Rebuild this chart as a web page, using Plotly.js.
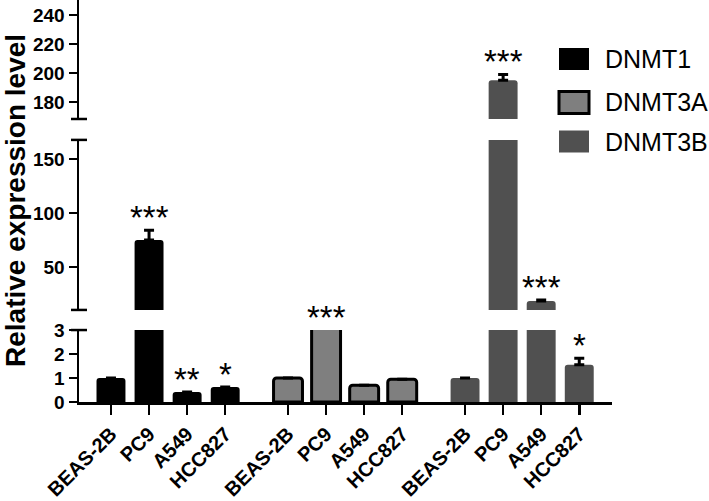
<!DOCTYPE html>
<html>
<head>
<meta charset="utf-8">
<script src="https://cdn.plot.ly/plotly-3.0.1.min.js"></script>
<style>
  html, body { margin: 0; padding: 0; background: #fff; }
  #chart { width: 709px; height: 501px; }
</style>
</head>
<body>
<div id="chart"></div>
<script>
var cells = ['BEAS-2B', 'PC9', 'A549', 'HCC827'];
var genes = ['DNMT1', 'DNMT3A', 'DNMT3B'];

var dnmt1 = [1, 75, 0.42, 0.63];
var dnmt1Err = [0, 9, 0, 0];
var dnmt1Stars = ['', '***', '**', '*'];

var dnmt3a = [1, 4, 0.7, 0.95];
var dnmt3aErr = [0, 0, 0, 0];
var dnmt3aStars = ['', '***', '', ''];

var dnmt3b = [1, 195, 18.5, 1.55];
var dnmt3bErr = [0, 4, 1, 0.27];
var dnmt3bStars = ['', '***', '***', '*'];

var values = [dnmt1, dnmt3a, dnmt3b];
var errors = [dnmt1Err, dnmt3aErr, dnmt3bErr];
var stars = [dnmt1Stars, dnmt3aStars, dnmt3bStars];

var fills = ['#000000', '#7f7f7f', '#505050'];
var outlines = [0, 3, 0];
var groupGap = 4.65;
var font = 'Liberation Sans, Arial, sans-serif';

// three stacked y segments for the broken axis
var segs = [
  {id: 'y', key: 'yaxis', domain: [0, 0.179], range: [0, 3], ticks: [0, 1, 2, 3]},
  {id: 'y2', key: 'yaxis2', domain: [0.229, 0.652], range: [10.2, 167.6], ticks: [50, 100, 150]},
  {id: 'y3', key: 'yaxis3', domain: [0.704, 1], range: [168.3, 250.3], ticks: [180, 200, 220, 240]}
];

var data = [];
var tickPos = [], tickText = [];
var annotations = [];

genes.forEach(function (g, gi) {
  var xs = cells.map(function (c, i) { return gi * groupGap + i; });
  xs.forEach(function (x, i) { tickPos.push(x); tickText.push(cells[i]); });
  segs.forEach(function (s) {
    data.push({
      type: 'bar',
      name: g,
      x: xs,
      y: values[gi],
      xaxis: 'x',
      yaxis: s.id,
      width: 0.76,
      showlegend: false,
      hoverinfo: 'skip',
      marker: {color: fills[gi], line: {color: '#000', width: outlines[gi]}, cornerradius: 3},
      error_y: {
        type: 'data', symmetric: false,
        array: errors[gi], arrayminus: errors[gi].map(function () { return 0; }),
        color: '#000', thickness: 3, width: 5
      }
    });
  });
  // significance stars
  stars[gi].forEach(function (st, i) {
    if (!st) return;
    var top = values[gi][i] + errors[gi][i];
    var ref = 'y', yy = Math.min(top, 3);
    if (top > 168.3) { ref = 'y3'; yy = top; }
    else if (top > 10.2) { ref = 'y2'; yy = top; }
    annotations.push({
      x: xs[i], y: yy, xref: 'x', yref: ref, text: st, showarrow: false,
      yanchor: 'bottom', yshift: -8,
      font: {family: font, size: 33, color: '#000'}
    });
  });
});

var layout = {
  width: 709, height: 501,
  margin: {l: 79, r: 97, t: 0, b: 99},
  paper_bgcolor: '#fff', plot_bgcolor: '#fff',
  barmode: 'overlay',
  showlegend: false,
  font: {family: font, color: '#000'},
  xaxis: {
    range: [-0.84, 13.16],
    tickvals: tickPos, ticktext: tickText, tickangle: -45,
    ticks: 'outside', ticklen: 10, tickwidth: 2.5, tickcolor: '#000',
    showline: true, linewidth: 2.5, linecolor: '#000',
    showgrid: false, zeroline: false, anchor: 'y',
    tickfont: {family: font, size: 20, color: '#000', weight: 'bold'}
  },
  annotations: annotations,
  shapes: []
};

segs.forEach(function (s) {
  layout[s.key] = {
    domain: s.domain, range: s.range, tickvals: s.ticks,
    ticks: 'outside', ticklen: 8, tickwidth: 2.5, tickcolor: '#000',
    showline: true, linewidth: 2.5, linecolor: '#000',
    showgrid: false, zeroline: false, anchor: 'x',
    tickfont: {family: font, size: 19, color: '#000', weight: 'bold'}
  };
});

// end caps on the axis breaks
[['y domain', 1], ['y2 domain', 0], ['y2 domain', 1], ['y3 domain', 0]].forEach(function (c) {
  layout.shapes.push({
    type: 'line', xref: 'paper', yref: c[0],
    x0: -8 / 533, x1: 8 / 533, y0: c[1], y1: c[1],
    line: {color: '#000', width: 2.5}
  });
});

// legend swatches drawn by hand to keep the large boxes
var legY = [59, 102.5, 141.5];
genes.forEach(function (g, gi) {
  var yc = 1 - legY[gi] / 402;
  var hh = 11 / 402;
  layout.shapes.push({
    type: 'rect', xref: 'paper', yref: 'paper',
    x0: (559 - 79) / 533, x1: (589 - 79) / 533, y0: yc - hh, y1: yc + hh,
    fillcolor: fills[gi],
    line: {color: '#000', width: outlines[gi] || 0}
  });
  annotations.push({
    xref: 'paper', yref: 'paper', x: (603 - 79) / 533, y: yc,
    xanchor: 'left', yanchor: 'middle', showarrow: false, text: g,
    font: {family: font, size: 25, color: '#000'}
  });
});

annotations.push({
  xref: 'paper', yref: 'paper', x: (15 - 79) / 533, y: 0.5,
  xanchor: 'center', yanchor: 'middle', showarrow: false, textangle: -90,
  text: '<b>Relative expression level</b>',
  font: {family: font, size: 28, color: '#000'}
});

Plotly.newPlot('chart', data, layout, {displayModeBar: false, staticPlot: true});
</script>
</body>
</html>
